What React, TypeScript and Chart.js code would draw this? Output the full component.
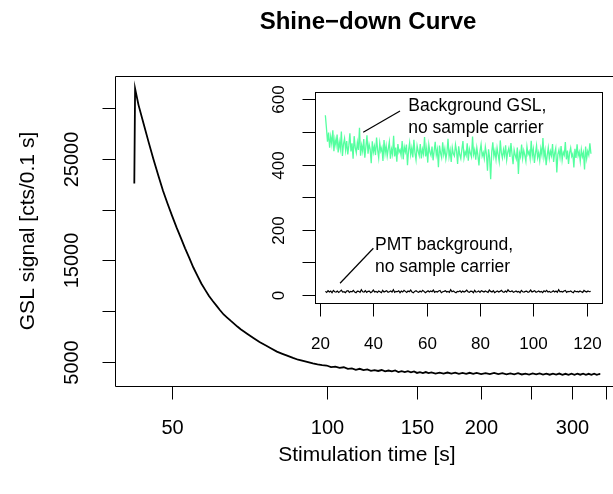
import React, { useEffect, useRef } from "react";
import { Chart, registerables } from "chart.js";

Chart.register(...registerables);

const FONT = '"Liberation Sans", Arial, Helvetica, sans-serif';

// ---------- main shine-down curve ----------
const mainTime = [
  42.2, 42.35, 43, 44, 45, 46, 47, 48, 49, 50, 51, 52, 53, 54, 55, 56, 57, 58, 59, 60,
  61, 62, 63, 64, 65, 66, 67, 68, 69, 70, 72, 74, 76, 78, 80, 82, 84, 86, 88, 90,
  92, 94, 96, 98, 100, 102, 104, 106, 108, 110, 112, 114, 116, 118, 120, 122, 124, 126, 128, 130,
  132, 134, 136, 138, 140, 142, 144, 146, 148, 150, 152, 154, 156, 158, 160, 163, 166, 169, 172, 175,
  178, 181, 184, 187, 190, 193, 196, 200, 204, 208, 212, 216, 220, 224, 228, 232, 236, 240, 244, 248,
  252, 256, 260, 264, 268, 272, 276, 280, 284, 288, 292, 296, 300, 304, 308, 312, 316, 320, 324, 328,
  332, 336, 340, 341,
];
const mainSignal = [
  22570, 31900, 30305, 28447, 26638, 24937, 23354, 21850, 20572, 19383, 18252, 17220, 16188, 15244, 14300, 13494, 12727, 12098, 11488, 11000,
  10545, 10092, 9679, 9375, 9070, 8784, 8490, 8224, 8008, 7791, 7369, 6975, 6651, 6327, 6022, 5806, 5600, 5403, 5226, 5108,
  4980, 4862, 4764, 4695, 4656, 4500, 4545, 4429, 4485, 4325, 4376, 4238, 4336, 4213, 4267, 4132, 4209, 4119, 4213, 4075,
  4162, 4074, 4166, 4018, 4100, 4007, 4092, 3980, 4073, 3928, 4010, 3913, 4015, 3912, 3979, 3857, 3954, 3857, 3964, 3859,
  3949, 3829, 3921, 3828, 3940, 3832, 3924, 3810, 3906, 3807, 3923, 3809, 3900, 3786, 3887, 3788, 3895, 3777, 3864, 3766,
  3878, 3780, 3878, 3761, 3859, 3752, 3860, 3763, 3866, 3749, 3842, 3741, 3855, 3749, 3858, 3752, 3846, 3735, 3839, 3738,
  3852, 3741, 3830, 3760,
];
const mainXTicks = [50, 100, 150, 200, 250, 300, 350];
const mainXTickLabels = ["50", "100", "150", "200", "", "300", ""];
const mainYTicks = [5000, 10000, 15000, 20000, 25000, 30000];
const mainYTickLabels = ["5000", "", "15000", "", "25000", ""];

// ---------- inset: backgrounds ----------
const gslStart = 22.0;
const gslStep = 0.4;
const backgroundGSL = [
  551, 512, 470, 498, 452, 486, 463, 505, 441, 478,
  459, 492, 437, 470, 448, 501, 426, 463, 480, 444,
  472, 431, 458, 496, 440, 465, 418, 487, 452, 436,
  468, 445, 513, 427, 459, 440, 478, 421, 455, 490,
  433, 462, 447, 404, 471, 438, 456, 429, 483, 445,
  420, 466, 441, 452, 411, 475, 434, 458, 426, 449,
  470, 418, 447, 431, 488, 425, 452, 409, 463, 437,
  445, 428, 472, 416, 454, 439, 461, 398, 443, 467,
  430, 451, 422, 476, 436, 414, 458, 441, 427, 463,
  419, 447, 432, 484, 425, 450, 406, 461, 438, 428,
  455, 413, 442, 470, 429, 446, 392, 458, 435, 421,
  468, 431, 449, 417, 437, 479, 424, 444, 408, 452,
  433, 426, 461, 441, 402, 456, 430, 418, 447, 472,
  420, 439, 428, 465, 412, 448, 434, 423, 486, 431,
  445, 415, 452, 429, 397, 441, 462, 426, 437, 418,
  454, 433, 381, 447, 421, 355, 439, 468, 425, 443,
  416, 451, 430, 409, 474, 436, 420, 446, 427, 459,
  414, 438, 450, 423, 466, 432, 401, 445, 429, 417,
  452, 371, 436, 424, 461, 419, 443, 428, 410, 455,
  431, 440, 418, 473, 426, 447, 405, 434, 458, 421,
  437, 412, 449, 430, 481, 423, 444, 398, 429, 452,
  419, 441, 427, 463, 408, 435, 450, 376, 431, 445,
  422, 457, 414, 438, 429, 469, 416, 443, 402, 436,
  451, 425, 433, 391, 448, 420, 462, 427, 439, 410,
  446, 424, 437, 385, 455, 418, 441, 429, 465, 433,
];
const pmtStart = 22.0;
const pmtStep = 0.5;
const pmtBackground = [
  11, 8, 13, 9, 12, 7, 14, 10, 9, 12,
  8, 11, 15, 9, 10, 7, 12, 13, 8, 11,
  10, 14, 9, 7, 12, 11, 8, 16, 10, 9,
  13, 8, 11, 12, 7, 10, 15, 9, 11, 8,
  12, 10, 7, 14, 9, 11, 13, 8, 10, 12,
  9, 16, 8, 11, 10, 13, 7, 12, 9, 14,
  11, 8, 12, 10, 15, 9, 7, 11, 13, 10,
  8, 12, 9, 14, 11, 7, 10, 13, 9, 12,
  10, 15, 8, 11, 9, 12, 14, 7, 10, 11,
  13, 9, 11, 8, 16, 10, 12, 9, 7, 11,
  10, 13, 8, 12, 9, 11, 15, 10, 8, 12,
  11, 7, 14, 9, 10, 12, 8, 13, 11, 9,
  12, 10, 8, 15, 11, 9, 13, 7, 10, 12,
  9, 11, 14, 10, 8, 12, 9, 16, 11, 10,
  13, 8, 10, 12, 9, 11, 7, 14, 10, 9,
  11, 12, 8, 10, 15, 9, 11, 13, 8, 10,
  12, 9, 11, 7, 13, 10, 14, 9, 11, 8,
  10, 13, 9, 12, 8, 16, 10, 11, 9, 12,
  14, 8, 11, 10, 12, 9, 7, 13, 10, 11,
  9, 12, 10, 8, 14, 11, 9, 12, 10, 11,
];
const insetXTicks = [20, 40, 60, 80, 100, 120];
const insetYTicks = [0, 100, 200, 300, 400, 500, 600];
const insetYTickLabels = ["0", "", "200", "", "400", "", "600"];

// annotation texts (positions in inset data units)
const gslNote = ["Background GSL,", "no sample carrier"];
const pmtNote = ["PMT background,", "no sample carrier"];
const NOTES = [
  { lines: gslNote, x: 53.1, baselines: [565, 497.6], leader: [[36.2, 498.8], [50, 564]] },
  { lines: pmtNote, x: 40.6, baselines: [138, 71.4], leader: [[27.5, 35.9], [40, 143.2]] },
];

const MAIN_W = 640;
const H = 494;
const INSET_W = 613;

function vText(ctx: CanvasRenderingContext2D, s: string, x: number, y: number) {
  ctx.save();
  ctx.translate(x, y);
  ctx.rotate(-Math.PI / 2);
  ctx.textAlign = "center";
  ctx.textBaseline = "middle";
  ctx.fillText(s, 0, 0);
  ctx.restore();
}

const mainAxesPlugin = {
  id: "mainAxes",
  afterDraw(chart: any) {
    const { ctx, chartArea: a, scales } = chart;
    const xs = scales.x;
    const ys = scales.y;
    ctx.save();
    ctx.strokeStyle = "#000";
    ctx.fillStyle = "#000";
    ctx.lineWidth = 1;
    const L = Math.round(a.left) + 0.5;
    const T = Math.round(a.top) + 0.5;
    const R = Math.round(a.right) + 0.5;
    const B = Math.round(a.bottom) + 0.5;
    ctx.beginPath();
    ctx.moveTo(L, T);
    ctx.lineTo(R, T);
    ctx.lineTo(R, B);
    ctx.lineTo(L, B);
    ctx.closePath();
    ctx.stroke();

    ctx.font = `20px ${FONT}`;
    ctx.textAlign = "center";
    ctx.textBaseline = "middle";
    mainXTicks.forEach((v, i) => {
      const px = Math.round(xs.getPixelForValue(v)) + 0.5;
      ctx.beginPath();
      ctx.moveTo(px, B);
      ctx.lineTo(px, B + 13);
      ctx.stroke();
      if (mainXTickLabels[i]) ctx.fillText(mainXTickLabels[i], px, a.bottom + 42);
    });
    mainYTicks.forEach((v, i) => {
      const py = Math.round(ys.getPixelForValue(v)) + 0.5;
      ctx.beginPath();
      ctx.moveTo(L, py);
      ctx.lineTo(L - 13, py);
      ctx.stroke();
      if (mainYTickLabels[i]) vText(ctx, mainYTickLabels[i], a.left - 42.5, py);
    });

    ctx.font = `21px ${FONT}`;
    ctx.textAlign = "center";
    ctx.textBaseline = "middle";
    ctx.fillText("Stimulation time [s]", (a.left + a.right) / 2, 455);
    vText(ctx, "GSL signal [cts/0.1 s]", 28, (a.top + a.bottom) / 2);

    ctx.font = `bold 24px ${FONT}`;
    ctx.textAlign = "center";
    ctx.textBaseline = "middle";
    ctx.fillText("Shine\u2212down Curve", 368, 22);
    ctx.restore();
  },
};

const insetPlugin = {
  id: "insetAxes",
  beforeDatasetsDraw(chart: any) {
    const { ctx, chartArea: a } = chart;
    ctx.save();
    ctx.fillStyle = "#fff";
    ctx.fillRect(a.left, a.top, a.right - a.left, a.bottom - a.top);
    ctx.restore();
  },
  afterDraw(chart: any) {
    const { ctx, chartArea: a, scales } = chart;
    const xs = scales.x;
    const ys = scales.y;
    ctx.save();
    ctx.strokeStyle = "#000";
    ctx.fillStyle = "#000";
    ctx.lineWidth = 1;
    const L = Math.round(a.left) + 0.5;
    const T = Math.round(a.top) + 0.5;
    const R = Math.round(a.right) + 0.5;
    const B = Math.round(a.bottom) + 0.5;
    ctx.strokeRect(L, T, R - L, B - T);

    ctx.font = `17px ${FONT}`;
    ctx.textAlign = "center";
    ctx.textBaseline = "middle";
    insetXTicks.forEach((v) => {
      const px = Math.round(xs.getPixelForValue(v)) + 0.5;
      ctx.beginPath();
      ctx.moveTo(px, B);
      ctx.lineTo(px, B + 13);
      ctx.stroke();
      ctx.fillText(String(v), px, a.bottom + 41.5);
    });
    insetYTicks.forEach((v, i) => {
      const py = Math.round(ys.getPixelForValue(v)) + 0.5;
      ctx.beginPath();
      ctx.moveTo(L, py);
      ctx.lineTo(L - 13, py);
      ctx.stroke();
      if (insetYTickLabels[i]) vText(ctx, insetYTickLabels[i], a.left - 35.7, py);
    });

    ctx.font = `17.5px ${FONT}`;
    ctx.textAlign = "left";
    ctx.textBaseline = "alphabetic";
    ctx.lineWidth = 1.2;
    NOTES.forEach((n) => {
      ctx.beginPath();
      ctx.moveTo(xs.getPixelForValue(n.leader[0][0]), ys.getPixelForValue(n.leader[0][1]));
      ctx.lineTo(xs.getPixelForValue(n.leader[1][0]), ys.getPixelForValue(n.leader[1][1]));
      ctx.stroke();
      n.lines.forEach((s, i) => {
        ctx.fillText(s, xs.getPixelForValue(n.x), ys.getPixelForValue(n.baselines[i]));
      });
    });
    ctx.restore();
  },
};

export default function App() {
  const mainRef = useRef<HTMLCanvasElement>(null);
  const insetRef = useRef<HTMLCanvasElement>(null);

  useEffect(() => {
    const mainChart = new Chart(mainRef.current as HTMLCanvasElement, {
      type: "line",
      data: {
        datasets: [
          {
            data: mainTime.map((t, i) => ({ x: t, y: mainSignal[i] })),
            borderColor: "#000",
            borderWidth: 1.8,
            pointRadius: 0,
            tension: 0,
            fill: false,
          },
        ],
      },
      options: {
        responsive: false,
        animation: false,
        devicePixelRatio: 1,
        events: [],
        layout: { padding: { left: 115, top: 76, right: MAIN_W - 618.7, bottom: H - 386 } },
        scales: {
          x: { type: "logarithmic", min: 38.7, max: 370.7, display: false },
          y: { type: "linear", min: 2641, max: 33146, display: false },
        },
        plugins: { legend: { display: false }, tooltip: { enabled: false }, title: { display: false } },
      },
      plugins: [mainAxesPlugin],
    } as any);

    const insetChart = new Chart(insetRef.current as HTMLCanvasElement, {
      type: "line",
      data: {
        datasets: [
          {
            data: backgroundGSL.map((v, i) => ({ x: gslStart + i * gslStep, y: v })),
            borderColor: "#54FF9F",
            borderWidth: 1.3,
            pointRadius: 0,
            tension: 0,
            fill: false,
          },
          {
            data: pmtBackground.map((v, i) => ({ x: pmtStart + i * pmtStep, y: v })),
            borderColor: "#000",
            borderWidth: 1.2,
            pointRadius: 0,
            tension: 0,
            fill: false,
          },
        ],
      },
      options: {
        responsive: false,
        animation: false,
        devicePixelRatio: 1,
        events: [],
        layout: { padding: { left: 314.7, top: 91.5, right: INSET_W - 602.4, bottom: H - 302.8 } },
        scales: {
          x: { type: "linear", min: 18.0, max: 125.9, display: false },
          y: { type: "linear", min: -24, max: 624, display: false },
        },
        plugins: { legend: { display: false }, tooltip: { enabled: false }, title: { display: false } },
      },
      plugins: [insetPlugin],
    } as any);

    return () => {
      mainChart.destroy();
      insetChart.destroy();
    };
  }, []);

  return (
    <div
      style={{
        position: "fixed",
        left: 0,
        top: 0,
        width: INSET_W,
        height: H,
        overflow: "hidden",
        background: "#fff",
      }}
    >
      <canvas
        ref={mainRef}
        width={MAIN_W}
        height={H}
        style={{ position: "absolute", left: 0, top: 0, width: MAIN_W, height: H }}
      />
      <canvas
        ref={insetRef}
        width={INSET_W}
        height={H}
        style={{ position: "absolute", left: 0, top: 0, width: INSET_W, height: H }}
      />
    </div>
  );
}
